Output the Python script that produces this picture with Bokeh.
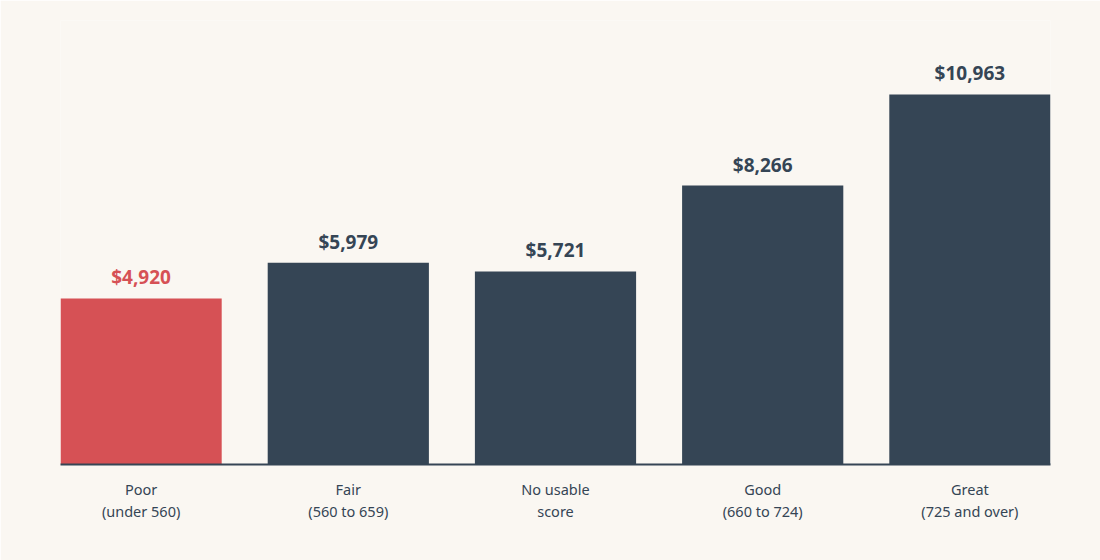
from bokeh.plotting import figure
from bokeh.models import ColumnDataSource, FixedTicker, Range1d
from bokeh.core.properties import value
from bokeh.embed import file_html
from bokeh.resources import INLINE

categories = ["Poor\n(under 560)", "Fair\n(560 to 659)", "No usable\nscore", "Good\n(660 to 724)", "Great\n(725 and over)"]
amounts = [4920, 5979, 5721, 8266, 10963]
amount_labels = ["$4,920", "$5,979", "$5,721", "$8,266", "$10,963"]

BG = "#faf7f2"
DARK = "#354555"
RED = "#d65155"

xs = list(range(len(categories)))
colors = [RED] + [DARK] * (len(categories) - 1)
src = ColumnDataSource(dict(x=xs, top=amounts, label=amount_labels, color=colors))

p = figure(width=1100, height=560, output_backend="svg", toolbar_location=None,
           x_range=Range1d(-0.389, len(categories) - 1 + 0.389), y_range=Range1d(0, 13155),
           min_border_left=60, min_border_right=50, min_border_top=20, min_border_bottom=96,
           frame_width=990, frame_height=444)
p.background_fill_color = BG
p.border_fill_color = BG
p.outline_line_color = None
p.grid.visible = False
p.yaxis.visible = False

p.vbar(x="x", top="top", bottom=0, width=0.778, fill_color="color", line_color=None, source=src)
p.text(x="x", y="top", text="label", source=src, text_align="center", text_baseline="bottom",
       y_offset=-8, text_font=value("Noto Sans"), text_font_style="bold", text_font_size="19px",
       text_color="color")

ax = p.xaxis[0]
ax.ticker = FixedTicker(ticks=xs)
ax.major_label_overrides = {i: c for i, c in enumerate(categories)}
ax.major_tick_line_color = None
ax.minor_tick_line_color = None
ax.axis_line_color = DARK
ax.axis_line_width = 2
ax.major_label_text_font = "Noto Sans"
ax.major_label_text_font_size = "14.5px"
ax.major_label_text_color = DARK
ax.major_label_standoff = 8
ax.major_label_text_line_height = 1.1

open("out.html", "w").write(file_html(p, INLINE))
